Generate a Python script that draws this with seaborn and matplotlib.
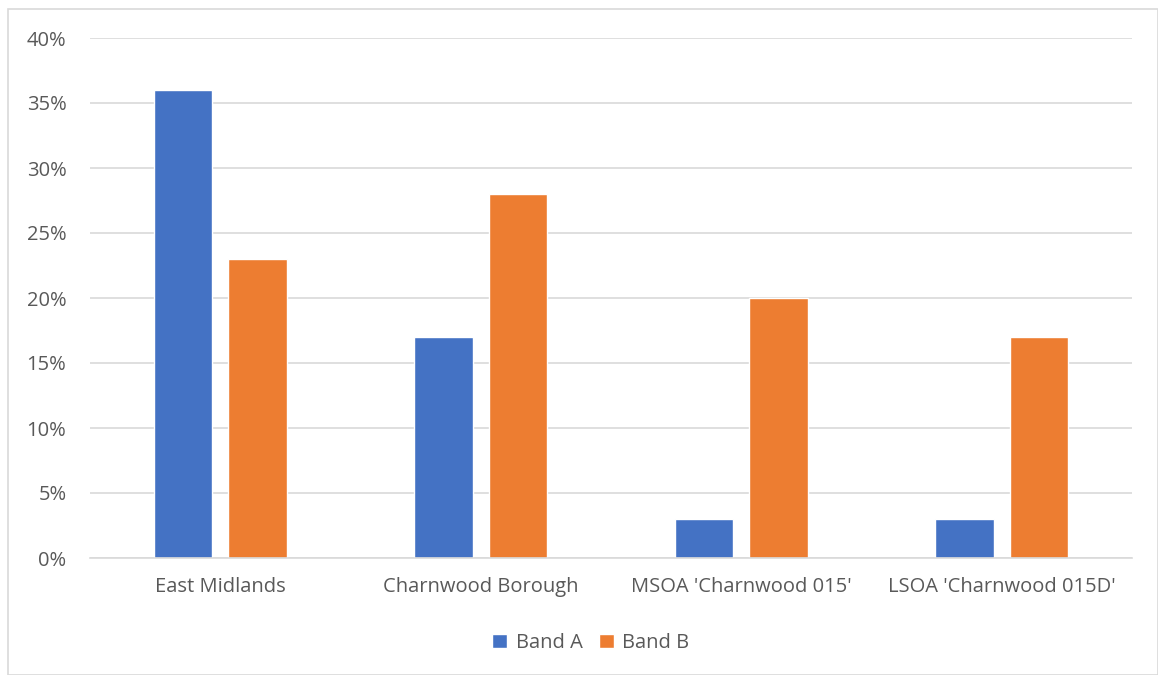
import numpy as np
import pandas as pd
import seaborn as sns
import matplotlib.pyplot as plt
from matplotlib.patches import Rectangle
from matplotlib.ticker import PercentFormatter

# values (percent)
areas = ["East Midlands", "Charnwood Borough", "MSOA 'Charnwood 015'", "LSOA 'Charnwood 015D'"]
band_a = [36, 17, 3, 3]
band_b = [23, 28, 20, 17]
bands = ["Band A", "Band B"]

df = pd.DataFrame({
    "area": areas * 2,
    "band": [bands[0]] * len(areas) + [bands[1]] * len(areas),
    "pct": band_a + band_b,
})

sns.set_style("white")
plt.rcParams['font.family'] = ['Open Sans', 'DejaVu Sans']

fig = plt.figure(figsize=(11.58, 6.75), dpi=100)
ax = fig.add_axes([90 / 1158, 1 - 558 / 675, (1132 - 90) / 1158, (558 - 38) / 675])

g = sns.barplot(data=df, x="area", y="pct", hue="band", ax=ax,
                palette=["#4472C4", "#ED7D31"], width=0.572, gap=0.21,
                saturation=1, errorbar=None)

ax.set_ylim(0, 40)
ax.set_yticks(np.arange(0, 41, 5))
ax.yaxis.set_major_formatter(PercentFormatter(decimals=0))
ax.grid(axis="y", color="#D9D9D9", linewidth=1.2)
ax.set_axisbelow(True)
for s in ["top", "right", "left"]:
    ax.spines[s].set_visible(False)
ax.spines["bottom"].set_color("#D9D9D9")
ax.spines["bottom"].set_linewidth(1.2)
ax.tick_params(axis="both", length=0, labelsize=14.5, labelcolor="#595959")
ax.tick_params(axis="x", pad=14)
ax.tick_params(axis="y", pad=17)
ax.set_xlabel("")
ax.set_ylabel("")
ax.set_xlim(-0.5, 3.5)

ax.get_legend().remove()
handles, labels = ax.get_legend_handles_labels()
fig.legend(handles, labels, loc="center", bbox_to_anchor=(0.51, 1 - 643 / 675),
           ncol=2, frameon=False, fontsize=14.5, labelcolor="#595959",
           handlelength=0.75, handleheight=0.75, handletextpad=0.4, columnspacing=0.8)

# outer chart border
fig.patches.append(Rectangle((8 / 1158, 0), 1 - 8 / 1158, 1 - 9 / 675,
                             transform=fig.transFigure, fill=False,
                             edgecolor="#D9D9D9", linewidth=1.2))

fig.savefig("out.png", dpi=100)
